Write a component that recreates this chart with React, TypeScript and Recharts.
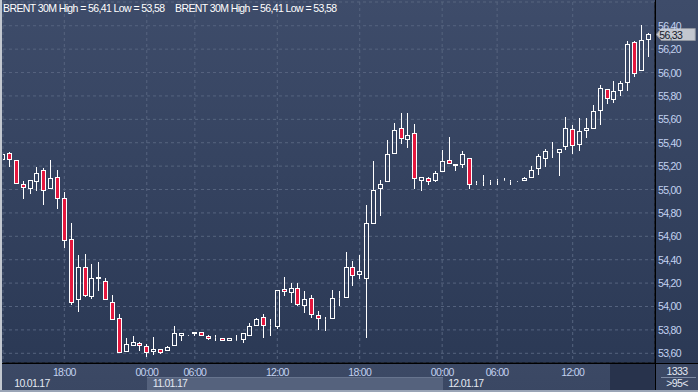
import React from "react";
import { ComposedChart, Bar, XAxis, YAxis, CartesianGrid, ReferenceDot } from "recharts";

// 30-minute Brent candles, 10.01.17 afternoon -> 12.01.17
const opens = [
  55.26, 55.31, 55.25, 55.05, 55.01, 55.07, 55.17, 55.01, 55.11, 54.93,
  54.58, 54.06, 54.34, 54.09, 54.24, 54.22, 54.04, 53.90, 53.62, 53.67,
  53.69, 53.66, 53.62, 53.64, 53.63, 53.67, 53.76, 53.76, 53.77, 53.78,
  53.75, 53.74, 53.73, 53.71, 53.71, 53.72, 53.76, 53.84, 53.91, 53.84,
  53.83, 54.15, 54.12, 54.16, 54.01, 54.07, 53.93, 53.89, 53.90, 54.07,
  54.08, 54.34, 54.28, 54.24, 54.71, 55.01, 55.07, 55.31, 55.53, 55.43,
  55.48, 55.08, 55.10, 55.08, 55.16, 55.25, 55.22, 55.22, 55.27, 55.06,
  55.07, 55.07, 55.08, 55.08, 55.07, 55.07, 55.08, 55.11, 55.18, 55.27,
  55.35, 55.32, 55.37, 55.52, 55.39, 55.51, 55.53, 55.68, 55.86, 55.77,
  55.85, 55.92, 56.26, 56.02, 56.29,
];
const highs = [
  55.31, 55.32, 55.25, 55.07, 55.08, 55.19, 55.18, 55.25, 55.17, 54.98,
  54.71, 54.44, 54.45, 54.36, 54.38, 54.24, 54.10, 53.94, 53.73, 53.75,
  53.70, 53.68, 53.74, 53.64, 53.66, 53.83, 53.77, 53.76, 53.78, 53.78,
  53.76, 53.76, 53.73, 53.73, 53.76, 53.77, 53.86, 53.90, 53.94, 53.89,
  54.14, 54.25, 54.20, 54.20, 54.13, 54.10, 53.96, 53.91, 54.14, 54.13,
  54.47, 54.39, 54.44, 54.87, 55.24, 55.08, 55.42, 55.57, 55.65, 55.65,
  55.56, 55.11, 55.11, 55.16, 55.34, 55.45, 55.22, 55.33, 55.27, 55.07,
  55.12, 55.08, 55.09, 55.10, 55.08, 55.07, 55.11, 55.20, 55.30, 55.35,
  55.41, 55.35, 55.62, 55.55, 55.61, 55.61, 55.72, 55.89, 55.86, 55.93,
  55.93, 56.27, 56.27, 56.41, 56.34,
];
const lows = [
  55.25, 55.20, 55.06, 54.93, 54.97, 55.00, 54.88, 55.01, 54.84, 54.51,
  54.02, 53.96, 54.09, 54.07, 54.14, 54.06, 53.89, 53.61, 53.62, 53.67,
  53.63, 53.58, 53.59, 53.60, 53.63, 53.67, 53.71, 53.76, 53.76, 53.76,
  53.72, 53.71, 53.71, 53.71, 53.71, 53.70, 53.76, 53.84, 53.74, 53.76,
  53.82, 54.10, 54.04, 54.01, 53.95, 53.91, 53.81, 53.80, 53.90, 54.01,
  54.08, 54.18, 54.24, 53.74, 54.71, 54.78, 55.07, 55.31, 55.40, 55.36,
  55.01, 55.00, 55.05, 55.07, 55.16, 55.23, 55.17, 55.19, 55.01, 55.05,
  55.04, 55.05, 55.05, 55.08, 55.05, 55.07, 55.08, 55.11, 55.13, 55.20,
  55.28, 55.12, 55.35, 55.31, 55.34, 55.45, 55.53, 55.56, 55.74, 55.75,
  55.81, 55.85, 55.97, 56.02, 56.14,
];
const closes = [
  55.30, 55.26, 55.06, 55.02, 55.08, 55.14, 55.00, 55.10, 54.93, 54.57,
  54.04, 54.34, 54.10, 54.24, 54.25, 54.06, 53.89, 53.61, 53.68, 53.70,
  53.67, 53.61, 53.64, 53.61, 53.65, 53.77, 53.77, 53.76, 53.78, 53.76,
  53.73, 53.74, 53.71, 53.73, 53.71, 53.77, 53.83, 53.89, 53.84, 53.84,
  54.14, 54.13, 54.16, 54.02, 54.06, 53.94, 53.90, 53.89, 54.07, 54.07,
  54.34, 54.27, 54.30, 54.71, 55.00, 55.05, 55.30, 55.51, 55.44, 55.47,
  55.10, 55.11, 55.07, 55.14, 55.24, 55.23, 55.21, 55.30, 55.05, 55.06,
  55.07, 55.07, 55.08, 55.08, 55.07, 55.07, 55.10, 55.17, 55.29, 55.33,
  55.35, 55.35, 55.53, 55.38, 55.50, 55.53, 55.67, 55.87, 55.78, 55.84,
  55.91, 56.24, 56.00, 56.28, 56.33,
];

const timeTickIdx = [9, 21, 28, 40, 52, 64, 72, 83];
const timeTickLabels = ["18:00", "00:00", "06:00", "12:00", "18:00", "00:00", "06:00", "12:00"];
const dateLabels: Record<number, string> = { 9: "10.01.17", 21: "11.01.17", 64: "12.01.17" };
const priceTicks = [53.6, 53.8, 54.0, 54.2, 54.4, 54.6, 54.8, 55.0, 55.2, 55.4, 55.6, 55.8, 56.0, 56.2, 56.4];

const RED = "#e5173e";
const AXIS_TXT = "#c3d2f0";
const FONT = "'Liberation Sans', Arial, sans-serif";

const data = opens.map((o, i) => ({ i, o, h: highs[i], l: lows[i], c: closes[i] }));
const fmt = (v: number) => v.toFixed(2).replace(".", ",");
const hi = Math.max(...highs);
const lo = Math.min(...lows);
const last = data.length - 1;

function Candle(props: any) {
  const { x, y, width, height, payload } = props;
  const { o, h, l, c } = payload;
  const y0 = Math.min(y, y + height);
  const y1 = Math.max(y, y + height);
  const range = h - l;
  const py = (v: number) => (range > 0 ? y0 + ((h - v) / range) * (y1 - y0) : y0);
  const mid = Math.floor(x + width / 2) + 0.5;
  const top = Math.round(py(Math.max(o, c))) + 0.5;
  const bot = Math.round(py(Math.min(o, c))) + 0.5;
  return (
    <g>
      <line x1={mid} x2={mid} y1={Math.round(y0)} y2={top} stroke="#fff" />
      <line x1={mid} x2={mid} y1={bot} y2={Math.round(y1) + 1} stroke="#fff" />
      <rect x={mid - 2} y={top} width={4} height={bot - top} fill={c < o ? RED : "none"} stroke="#fff" />
    </g>
  );
}

function TimeTick({ x, y, payload }: any) {
  const k = timeTickIdx.indexOf(payload.value);
  const date = dateLabels[payload.value];
  return (
    <g fontFamily={FONT} fontSize={10.5} letterSpacing={-0.7}>
      <text x={x} y={y + 12.5} textAnchor="middle" fill={AXIS_TXT}>{timeTickLabels[k]}</text>
      {date && (
        <text x={payload.value === 9 ? x - 50 : x + 6} y={y + 23.5} fill="#e3e8f2">{date}</text>
      )}
    </g>
  );
}

function PriceTick({ x, y, payload }: any) {
  return (
    <text x={x} y={y + 4} textAnchor="start" fill={AXIS_TXT} fontFamily={FONT} fontSize={10.5} letterSpacing={-0.7}>
      {fmt(payload.value)}
    </text>
  );
}

function LastPrice(props: any) {
  const { cx, cy } = props;
  const l = cx + 8;
  const yc = Math.round(cy) + 0.5;
  return (
    <g>
      <polygon
        points={`${l},${yc} ${l + 5},${yc - 6} ${l + 39},${yc - 6} ${l + 39},${yc + 6} ${l + 5},${yc + 6}`}
        fill="#c3c7cf"
        stroke="#8d939e"
      />
      <text x={l + 3} y={yc + 4} fill="#15192a" fontFamily={FONT} fontSize={10.5} letterSpacing={-0.7}>
        {fmt(closes[last])}
      </text>
    </g>
  );
}

const titleStyle: React.CSSProperties = {
  position: "absolute",
  top: 2,
  color: "#fff",
  fontFamily: FONT,
  fontSize: 10.5,
  letterSpacing: -0.6,
  lineHeight: "12px",
  whiteSpace: "nowrap",
};

export default function App() {
  const title = `BRENT 30M High = ${fmt(hi)} Low = ${fmt(lo)}`;
  return (
    <div
      style={{
        position: "absolute",
        left: 0,
        top: 0,
        width: 698,
        height: 392,
        overflow: "hidden",
        background: "linear-gradient(#3e4c6a 0px, #2b3955 363px, #3c4965 363px, #3a4763 392px)",
      }}
    >
      <div style={{ position: "absolute", left: 147, top: 377, width: 296, height: 15, background: "#55627d", borderTop: "1px solid #67748e" }} />
      <div style={{ position: "absolute", left: 610, top: 364, width: 45, height: 28, background: "#28334c" }} />
      <ComposedChart
        width={698}
        height={392}
        data={data}
        margin={{ top: 2, right: 0, bottom: 0, left: 3 }}
        style={{ position: "absolute", left: 0, top: 0 }}
      >
        <CartesianGrid stroke="#56647f" strokeDasharray="3 3" />
        <XAxis
          dataKey="i"
          type="number"
          domain={[0.073, 94.98]}
          allowDataOverflow
          ticks={timeTickIdx}
          interval={0}
          height={29}
          tickSize={0}
          tickMargin={0}
          axisLine={{ stroke: "#000" }}
          tickLine={false}
          tick={<TimeTick />}
        />
        <YAxis
          orientation="right"
          type="number"
          domain={[53.517, 56.603]}
          allowDataOverflow
          ticks={priceTicks}
          interval={0}
          width={43}
          tickSize={0}
          tickMargin={3}
          axisLine={{ stroke: "#000" }}
          tickLine={false}
          tick={<PriceTick />}
        />
        <Bar dataKey={(d: any) => [d.l, d.h]} barSize={5} shape={<Candle />} isAnimationActive={false} />
        <ReferenceDot x={last} y={closes[last]} r={0} ifOverflow="visible" shape={<LastPrice />} />
      </ComposedChart>
      <div style={{ ...titleStyle, left: 3 }}>{title}</div>
      <div style={{ ...titleStyle, left: 175 }}>{title}</div>
      <div style={{ position: "absolute", left: 0, top: 363, width: 698, height: 1, background: "#000" }} />
      <div style={{ position: "absolute", left: 655, top: 0, width: 1, height: 392, background: "#000" }} />
      <div style={{ position: "absolute", left: 0, top: 0, width: 2, height: 392, background: "#c3c8d0" }} />
      <div style={{ position: "absolute", left: 0, top: 390, width: 698, height: 2, background: "#9aa4b6" }} />
      <div style={{ position: "absolute", left: 656, top: 365, width: 42, textAlign: "center", color: "#e3e8f2", fontFamily: FONT, fontSize: 10.5, letterSpacing: -0.6, lineHeight: "12px" }}>1333</div>
      <div style={{ position: "absolute", left: 661, top: 377, width: 35, height: 1, background: "#7d8aa3" }} />
      <div style={{ position: "absolute", left: 656, top: 377, width: 42, textAlign: "center", color: "#e3e8f2", fontFamily: FONT, fontSize: 10.5, letterSpacing: -0.6, lineHeight: "12px" }}>&gt;95&lt;</div>
    </div>
  );
}
